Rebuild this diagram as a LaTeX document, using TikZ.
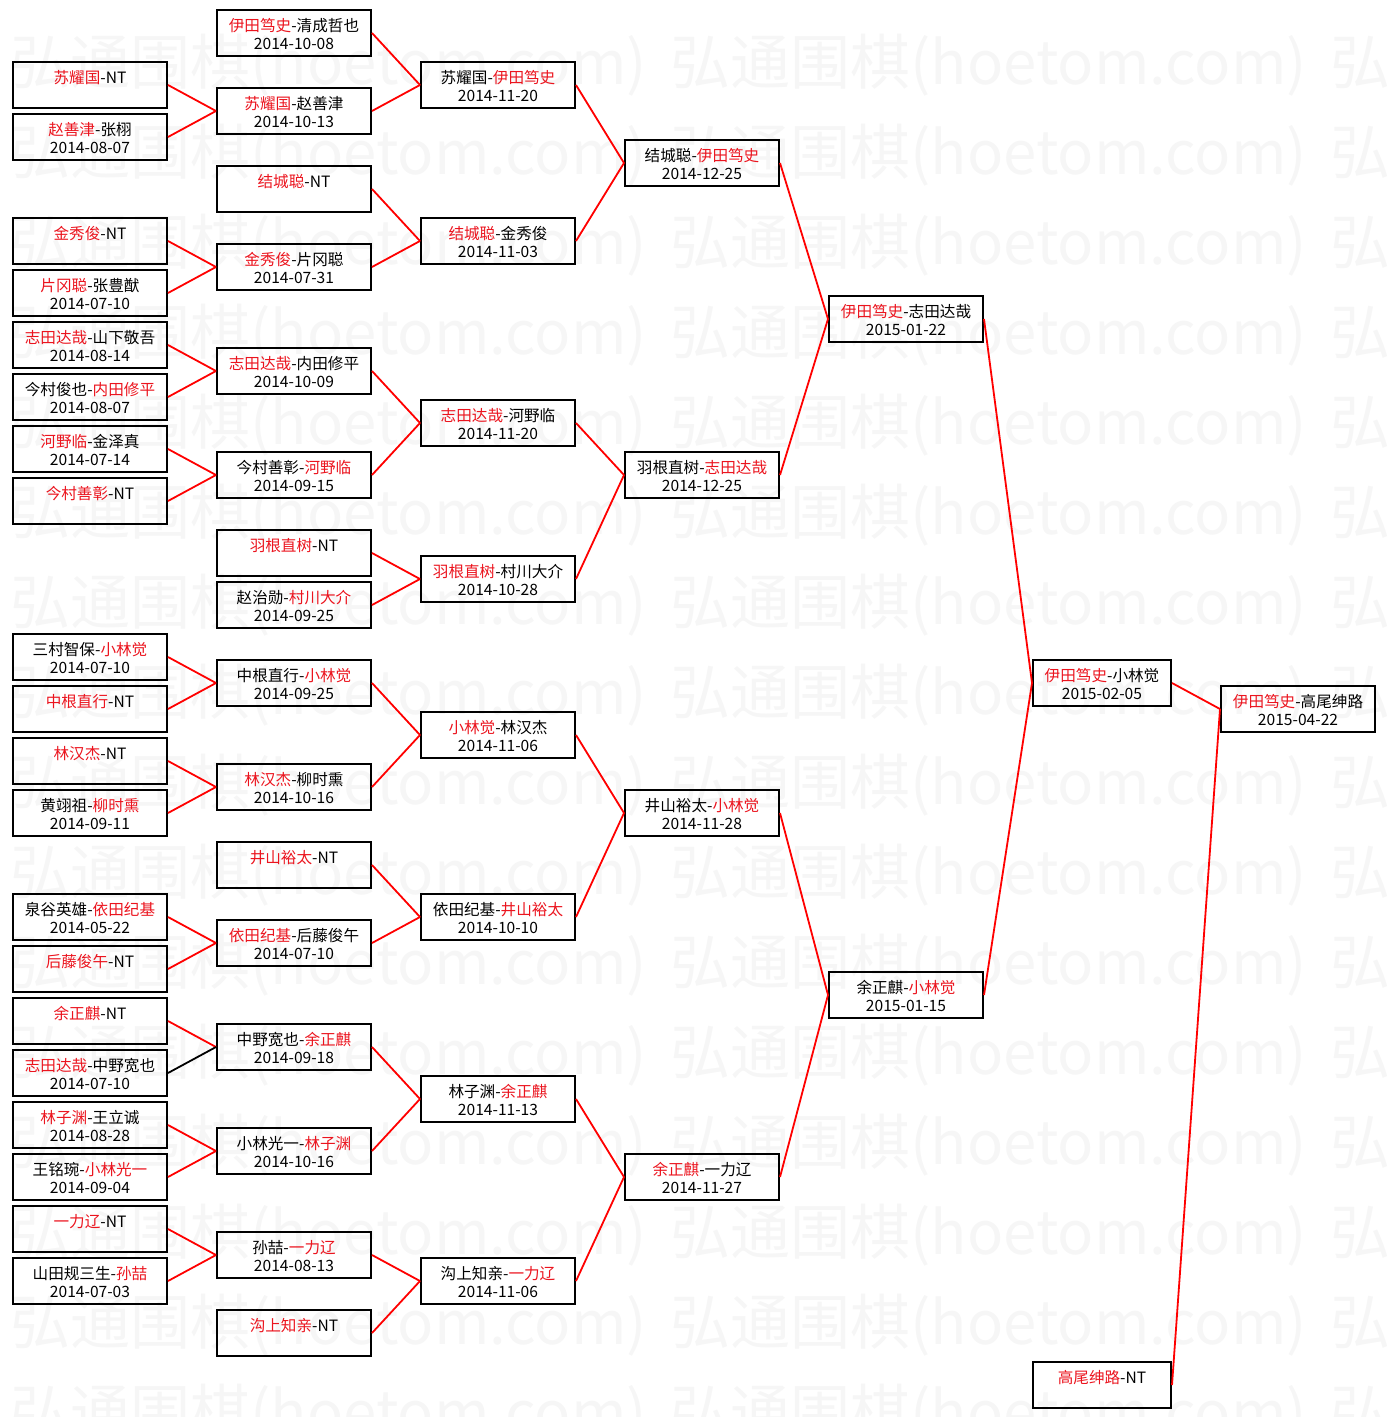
\documentclass[tikz,border=0pt]{standalone}
\usepackage{fontspec}
\setmainfont{Noto Sans CJK SC}
\usepackage{xcolor}
\definecolor{winred}{RGB}{235,20,30}
\newcommand{\hl}[1]{\textcolor{winred}{#1}}
\newcommand{\pair}[2]{\rule{0pt}{7.4pt}#1\\\mbox{}#2}

\begin{document}
\begin{tikzpicture}[x=0.5pt, y=-0.5pt,
	game/.style={rectangle, draw, line width=1pt, minimum width=77pt, minimum height=23pt, inner sep=0pt, align=center, font=\fontsize{7.8}{9}\selectfont},
	final/.style={game, minimum width=69pt},
	wmark/.style={anchor=west, inner sep=0pt, text=black!3.5, font=\fontsize{30}{30}\selectfont},
	win/.style={draw=red, line width=0.9pt},
	lose/.style={draw=black, line width=0.9pt}]
	\useasboundingbox (0,0) rectangle (1386,1417);

	% watermark
	\begin{scope}
	\clip (0,0) rectangle (1386,1417);
	\foreach \r in {0,...,15}
		\foreach \k in {0,1,2}
			\node[wmark] (w\r\k) at (10+660*\k, 65+90*\r) {弘通围棋(hoetom.com)};
	\end{scope}

	% first round
	\node[game] (a1)  at (90,85)   {\pair{\hl{苏耀国}-NT}{}};
	\node[game] (a2)  at (90,137)  {\pair{\hl{赵善津}-张栩}{2014-08-07}};
	\node[game] (a3)  at (90,241)  {\pair{\hl{金秀俊}-NT}{}};
	\node[game] (a4)  at (90,293)  {\pair{\hl{片冈聪}-张豊猷}{2014-07-10}};
	\node[game] (a5)  at (90,345)  {\pair{\hl{志田达哉}-山下敬吾}{2014-08-14}};
	\node[game] (a6)  at (90,397)  {\pair{今村俊也-\hl{内田修平}}{2014-08-07}};
	\node[game] (a7)  at (90,449)  {\pair{\hl{河野临}-金泽真}{2014-07-14}};
	\node[game] (a8)  at (90,501)  {\pair{\hl{今村善彰}-NT}{}};
	\node[game] (a9)  at (90,657)  {\pair{三村智保-\hl{小林觉}}{2014-07-10}};
	\node[game] (a10) at (90,709)  {\pair{\hl{中根直行}-NT}{}};
	\node[game] (a11) at (90,761)  {\pair{\hl{林汉杰}-NT}{}};
	\node[game] (a12) at (90,813)  {\pair{黄翊祖-\hl{柳时熏}}{2014-09-11}};
	\node[game] (a13) at (90,917)  {\pair{泉谷英雄-\hl{依田纪基}}{2014-05-22}};
	\node[game] (a14) at (90,969)  {\pair{\hl{后藤俊午}-NT}{}};
	\node[game] (a15) at (90,1021) {\pair{\hl{余正麒}-NT}{}};
	\node[game] (a16) at (90,1073) {\pair{\hl{志田达哉}-中野宽也}{2014-07-10}};
	\node[game] (a17) at (90,1125) {\pair{\hl{林子渊}-王立诚}{2014-08-28}};
	\node[game] (a18) at (90,1177) {\pair{王铭琬-\hl{小林光一}}{2014-09-04}};
	\node[game] (a19) at (90,1229) {\pair{\hl{一力辽}-NT}{}};
	\node[game] (a20) at (90,1281) {\pair{山田规三生-\hl{孙喆}}{2014-07-03}};

	% second round
	\node[game] (b1)  at (294,33)   {\pair{\hl{伊田笃史}-清成哲也}{2014-10-08}};
	\node[game] (b2)  at (294,111)  {\pair{\hl{苏耀国}-赵善津}{2014-10-13}};
	\node[game] (b3)  at (294,189)  {\pair{\hl{结城聪}-NT}{}};
	\node[game] (b4)  at (294,267)  {\pair{\hl{金秀俊}-片冈聪}{2014-07-31}};
	\node[game] (b5)  at (294,371)  {\pair{\hl{志田达哉}-内田修平}{2014-10-09}};
	\node[game] (b6)  at (294,475)  {\pair{今村善彰-\hl{河野临}}{2014-09-15}};
	\node[game] (b7)  at (294,553)  {\pair{\hl{羽根直树}-NT}{}};
	\node[game] (b8)  at (294,605)  {\pair{赵治勋-\hl{村川大介}}{2014-09-25}};
	\node[game] (b9)  at (294,683)  {\pair{中根直行-\hl{小林觉}}{2014-09-25}};
	\node[game] (b10) at (294,787)  {\pair{\hl{林汉杰}-柳时熏}{2014-10-16}};
	\node[game] (b11) at (294,865)  {\pair{\hl{井山裕太}-NT}{}};
	\node[game] (b12) at (294,943)  {\pair{\hl{依田纪基}-后藤俊午}{2014-07-10}};
	\node[game] (b13) at (294,1047) {\pair{中野宽也-\hl{余正麒}}{2014-09-18}};
	\node[game] (b14) at (294,1151) {\pair{小林光一-\hl{林子渊}}{2014-10-16}};
	\node[game] (b15) at (294,1255) {\pair{孙喆-\hl{一力辽}}{2014-08-13}};
	\node[game] (b16) at (294,1333) {\pair{\hl{沟上知亲}-NT}{}};

	% third round
	\node[game] (c1) at (498,85)   {\pair{苏耀国-\hl{伊田笃史}}{2014-11-20}};
	\node[game] (c2) at (498,241)  {\pair{\hl{结城聪}-金秀俊}{2014-11-03}};
	\node[game] (c3) at (498,423)  {\pair{\hl{志田达哉}-河野临}{2014-11-20}};
	\node[game] (c4) at (498,579)  {\pair{\hl{羽根直树}-村川大介}{2014-10-28}};
	\node[game] (c5) at (498,735)  {\pair{\hl{小林觉}-林汉杰}{2014-11-06}};
	\node[game] (c6) at (498,917)  {\pair{依田纪基-\hl{井山裕太}}{2014-10-10}};
	\node[game] (c7) at (498,1099) {\pair{林子渊-\hl{余正麒}}{2014-11-13}};
	\node[game] (c8) at (498,1281) {\pair{沟上知亲-\hl{一力辽}}{2014-11-06}};

	% quarter finals
	\node[game] (d1) at (702,163)  {\pair{结城聪-\hl{伊田笃史}}{2014-12-25}};
	\node[game] (d2) at (702,475)  {\pair{羽根直树-\hl{志田达哉}}{2014-12-25}};
	\node[game] (d3) at (702,813)  {\pair{井山裕太-\hl{小林觉}}{2014-11-28}};
	\node[game] (d4) at (702,1177) {\pair{\hl{余正麒}-一力辽}{2014-11-27}};

	% semi finals
	\node[game] (e1) at (906,319) {\pair{\hl{伊田笃史}-志田达哉}{2015-01-22}};
	\node[game] (e2) at (906,995) {\pair{余正麒-\hl{小林觉}}{2015-01-15}};

	\node[final] (f1) at (1102,683)  {\pair{\hl{伊田笃史}-小林觉}{2015-02-05}};
	\node[final] (f2) at (1102,1385) {\pair{\hl{高尾绅路}-NT}{}};

	\node[game] (g1) at (1298,709) {\pair{\hl{伊田笃史}-高尾绅路}{2015-04-22}};

	\path (a1.east) edge[win] (b2.west)
	(a2.east) edge[win] (b2.west)
	(a3.east) edge[win] (b4.west)
	(a4.east) edge[win] (b4.west)
	(a5.east) edge[win] (b5.west)
	(a6.east) edge[win] (b5.west)
	(a7.east) edge[win] (b6.west)
	(a8.east) edge[win] (b6.west)
	(a9.east) edge[win] (b9.west)
	(a10.east) edge[win] (b9.west)
	(a11.east) edge[win] (b10.west)
	(a12.east) edge[win] (b10.west)
	(a13.east) edge[win] (b12.west)
	(a14.east) edge[win] (b12.west)
	(a15.east) edge[win] (b13.west)
	(a16.east) edge[lose] (b13.west)
	(a17.east) edge[win] (b14.west)
	(a18.east) edge[win] (b14.west)
	(a19.east) edge[win] (b15.west)
	(a20.east) edge[win] (b15.west);

	\path (b1.east) edge[win] (c1.west)
	(b2.east) edge[win] (c1.west)
	(b3.east) edge[win] (c2.west)
	(b4.east) edge[win] (c2.west)
	(b5.east) edge[win] (c3.west)
	(b6.east) edge[win] (c3.west)
	(b7.east) edge[win] (c4.west)
	(b8.east) edge[win] (c4.west)
	(b9.east) edge[win] (c5.west)
	(b10.east) edge[win] (c5.west)
	(b11.east) edge[win] (c6.west)
	(b12.east) edge[win] (c6.west)
	(b13.east) edge[win] (c7.west)
	(b14.east) edge[win] (c7.west)
	(b15.east) edge[win] (c8.west)
	(b16.east) edge[win] (c8.west);

	\path (c1.east) edge[win] (d1.west)
	(c2.east) edge[win] (d1.west)
	(c3.east) edge[win] (d2.west)
	(c4.east) edge[win] (d2.west)
	(c5.east) edge[win] (d3.west)
	(c6.east) edge[win] (d3.west)
	(c7.east) edge[win] (d4.west)
	(c8.east) edge[win] (d4.west)
	(d1.east) edge[win] (e1.west)
	(d2.east) edge[win] (e1.west)
	(d3.east) edge[win] (e2.west)
	(d4.east) edge[win] (e2.west)
	(e1.east) edge[win] (f1.west)
	(e2.east) edge[win] (f1.west)
	(f1.east) edge[win] (g1.west)
	(f2.east) edge[win] (g1.west);

\end{tikzpicture}
\end{document}
